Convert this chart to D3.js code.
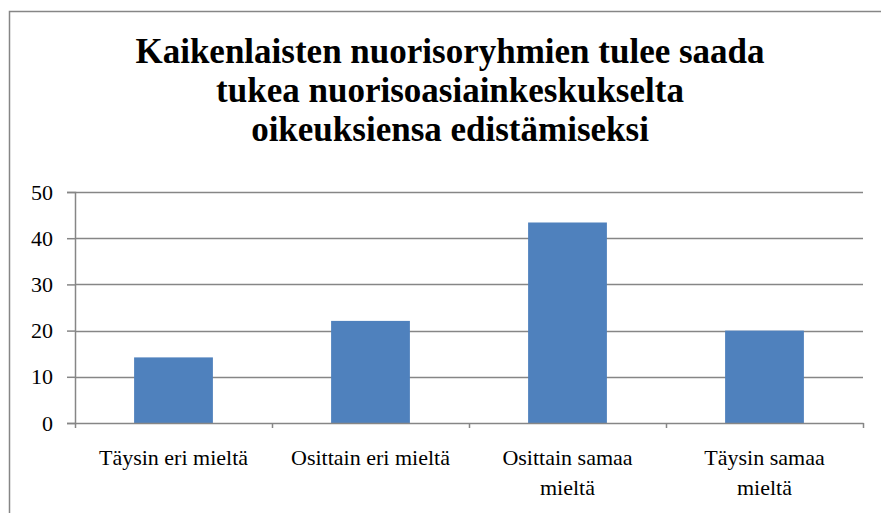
<!DOCTYPE html>
<html>
<head>
<meta charset="utf-8">
<script src="https://cdn.jsdelivr.net/npm/d3@7"></script>
<style>
  body { margin: 0; background: #fff; }
</style>
</head>
<body>
<svg id="chart" width="881" height="513"></svg>
<script>
const titleLines = [
  "Kaikenlaisten nuorisoryhmien tulee saada",
  "tukea nuorisoasiainkeskukselta",
  "oikeuksiensa edistämiseksi",
];
const categories = [
  "Täysin eri mieltä",
  "Osittain eri mieltä",
  "Osittain samaa mieltä",
  "Täysin samaa mieltä",
];
const values = [14.2, 22.1, 43.4, 20.0];
const yTicks = [0, 10, 20, 30, 40, 50];

const FONT = "'Liberation Serif', 'Times New Roman', Times, serif";
const svg = d3.select("#chart").attr("font-family", FONT);
const margin = { left: 75, right: 18, top: 192, bottom: 90 };
const width = +svg.attr("width");
const height = +svg.attr("height");
const axisColor = "#868686";
const barColor = "#4F81BD";
const labelWrap = 178;

// outer chart frame (runs off the right and bottom edges like the original crop)
svg
  .append("rect")
  .attr("x", 9.5)
  .attr("y", 11.5)
  .attr("width", width)
  .attr("height", height)
  .attr("fill", "none")
  .attr("stroke", axisColor)
  .attr("stroke-width", 1.5);

svg
  .append("text")
  .attr("text-anchor", "middle")
  .attr("font-family", FONT)
  .attr("font-weight", "bold")
  .attr("font-size", 35)
  .selectAll("tspan")
  .data(titleLines)
  .enter()
  .append("tspan")
  .attr("x", 450)
  .attr("y", (line, index) => 63 + index * 39)
  .text((line) => line);

const x = d3
  .scaleBand()
  .domain(categories)
  .range([margin.left, width - margin.right])
  .paddingInner(0.6)
  .paddingOuter(0.3);

const y = d3
  .scaleLinear()
  .domain([0, 50])
  .range([height - margin.bottom, margin.top]);

const step = x.step();
const plotLeft = margin.left;
const plotRight = plotLeft + step * categories.length;

// horizontal gridlines
svg
  .append("g")
  .selectAll("line")
  .data(yTicks.slice(1))
  .enter()
  .append("line")
  .attr("x1", plotLeft)
  .attr("x2", plotRight)
  .attr("y1", (d) => Math.round(y(d)) + 0.5)
  .attr("y2", (d) => Math.round(y(d)) + 0.5)
  .attr("stroke", axisColor)
  .attr("stroke-width", 1.5);

// bars
svg
  .append("g")
  .selectAll("rect")
  .data(values)
  .enter()
  .append("rect")
  .attr("x", (d, i) => x(categories[i]))
  .attr("width", x.bandwidth())
  .attr("y", (d) => y(d))
  .attr("height", (d) => y(0) - y(d))
  .attr("fill", barColor);

// y axis
const yAxis = svg
  .append("g")
  .attr("transform", `translate(${plotLeft},0)`)
  .call(d3.axisLeft(y).tickValues(yTicks).tickSize(8).tickPadding(14));
yAxis.attr("font-family", FONT).attr("font-size", 22);
yAxis.select(".domain").attr("stroke", axisColor).attr("stroke-width", 1.5);
yAxis.selectAll(".tick line").attr("stroke", axisColor).attr("stroke-width", 1.5);
yAxis.selectAll(".tick text").attr("fill", "#000");

// x axis: ticks on the category boundaries
const boundary = d3
  .scaleLinear()
  .domain([0, categories.length])
  .range([plotLeft, plotRight]);
const xAxis = svg
  .append("g")
  .attr("transform", `translate(0,${y(0)})`)
  .call(
    d3
      .axisBottom(boundary)
      .tickValues(d3.range(categories.length + 1))
      .tickSize(5)
      .tickSizeOuter(0)
      .tickFormat("")
  );
xAxis.select(".domain").attr("stroke", axisColor).attr("stroke-width", 1.5);
xAxis.selectAll(".tick line").attr("stroke", axisColor).attr("stroke-width", 1.5);

// category labels, wrapped like the original
const labels = svg
  .append("g")
  .attr("font-family", FONT)
  .attr("font-size", 22)
  .selectAll("text")
  .data(categories)
  .enter()
  .append("text")
  .attr("text-anchor", "middle")
  .attr("x", (d) => x(d) + x.bandwidth() / 2)
  .attr("y", 465);

labels.each(function (label) {
  const text = d3.select(this);
  const cx = +text.attr("x");
  const words = label.split(" ");
  let line = [];
  let lineNo = 0;
  let tspan = text.append("tspan").attr("x", cx).attr("y", 465);
  words.forEach((word) => {
    line.push(word);
    tspan.text(line.join(" "));
    if (tspan.node().getComputedTextLength() > labelWrap && line.length > 1) {
      line.pop();
      tspan.text(line.join(" "));
      line = [word];
      lineNo += 1;
      tspan = text
        .append("tspan")
        .attr("x", cx)
        .attr("y", 465 + lineNo * 30)
        .text(word);
    }
  });
});
</script>
</body>
</html>
